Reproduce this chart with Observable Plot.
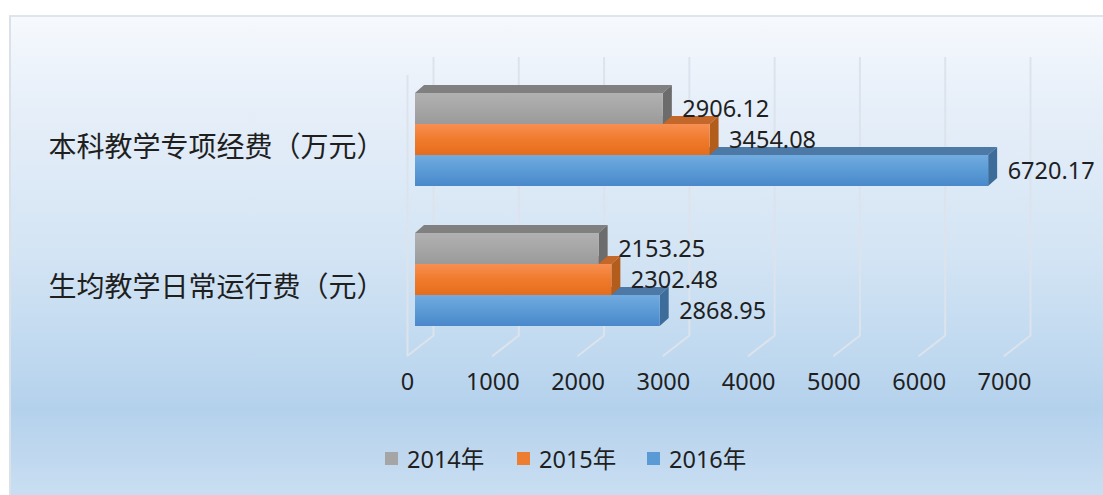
<!DOCTYPE html>
<html>
<head>
<meta charset="utf-8">
<script src="https://cdn.jsdelivr.net/npm/d3@7"></script>
<script src="https://cdn.jsdelivr.net/npm/@observablehq/plot@0.6"></script>
<style>
  html, body { margin: 0; padding: 0; background: #ffffff; width: 1103px; height: 495px; overflow: hidden;
    font-family: "Noto Sans", "Noto Sans CJK SC", sans-serif; }
  #panel { position: absolute; left: 9px; top: 15px; width: 1094px; height: 480px; box-sizing: border-box;
    border-left: 2px solid #dbe1e8; border-top: 2px solid #e0e5eb;
    background: linear-gradient(to bottom, #f6f9fd 0%, #e7eff9 18%, #d3e4f4 50%, #bed8ef 72%, #b4d1ec 82%, #c9def2 100%); }
  #chart { position: absolute; left: 0; top: 0; }
  .lg { position: absolute; top: 445px; height: 26px; display: flex; align-items: center; font-size: 23.5px; color: #1f1f1f; }
  .lg i { display: inline-block; width: 13px; height: 13px; margin-right: 9px; }
</style>
</head>
<body>
<div id="panel"></div>
<div id="chart"></div>
<div id="legend"></div>
<script>
// ---- data ----
const categories = ["本科教学专项经费（万元）", "生均教学日常运行费（元）"];
const years = ["2014年", "2015年", "2016年"];
const values2014 = [2906.12, 2153.25];
const values2015 = [3454.08, 2302.48];
const values2016 = [6720.17, 2868.95];
const xTicks = [0, 1000, 2000, 3000, 4000, 5000, 6000, 7000];

// ---- styles ----
const styles = {
  "2014年": {id: "g2014", front: ["#b1b1b1", "#a6a6a6", "#9a9a9a"], top: "#808080", side: "#6c6c6c", swatch: "#a5a5a5"},
  "2015年": {id: "g2015", front: ["#f78f52", "#f07a2c", "#e56d1c"], top: "#c4672a", side: "#b25d1c", swatch: "#ed7d31"},
  "2016年": {id: "g2016", front: ["#72abe0", "#5b9bd5", "#4a88cb"], top: "#4d79a7", side: "#3e6c9a", swatch: "#5b9bd5"}
};
const seriesValues = [values2014, values2015, values2016];
const rowsByYear = years.map((yr, k) => categories.map((c, i) => ({cat: c, year: yr, value: seriesValues[k][i]})));

const BAR = 31, BAND = 93, DEPTH_X = 9, DEPTH_Y = 8;
const font = "\"Noto Sans\", \"Noto Sans CJK SC\", sans-serif";
const textColor = "#1f1f1f";
const gridColor = "#dce3ec";

const barMarks = [];
// draw back-to-front: 2016 (bottom) first, then 2015, then 2014; each: top face, side face, front face
for (let k = years.length - 1; k >= 0; k--) {
  const yr = years[k], st = styles[yr], data = rowsByYear[k];
  barMarks.push(
    Plot.barX(data, {x1: 0, x2: "value", y: "cat", insetTop: BAR * k - DEPTH_Y, insetBottom: BAND - BAR * k,
      fill: st.top}),
    Plot.barX(data, {x1: "value", x2: "value", y: "cat", insetRight: -DEPTH_X, insetTop: BAR * k, insetBottom: BAR * (2 - k),
      fill: st.side}),
    Plot.barX(data, {x1: 0, x2: "value", y: "cat", insetTop: BAR * k, insetBottom: BAR * (2 - k),
      fill: `url(#${st.id})`})
  );
}

const labelMarks = years.map((yr, k) =>
  Plot.text(rowsByYear[k], {x: "value", y: "cat", text: d => d.value.toFixed(2), dx: 19, dy: (k - 1) * BAR,
    textAnchor: "start", fontSize: 23.5, fill: textColor, fontFamily: font})
);

const lineShape = {draw(context, l) { context.moveTo(0, 0); context.lineTo(0, -l); }};

const plot = Plot.plot({
  width: 1103,
  height: 440,
  marginLeft: 415,
  marginRight: 91,
  marginTop: 93,
  marginBottom: 114,
  style: {background: "transparent", overflow: "visible", fontFamily: font},
  x: {domain: [0, 7000], axis: null},
  y: {domain: categories, paddingInner: 47 / 140, paddingOuter: 0, axis: null},
  marks: [
    // back wall gridlines
    Plot.ruleX(xTicks, {x: d => d, dx: 18, insetTop: -36, insetBottom: -9, stroke: gridColor, strokeWidth: 2}),
    // floor diagonals
    Plot.vector(xTicks, {x: d => d, frameAnchor: "bottom", dx: 18, dy: 9, rotate: 232, length: 33, anchor: "start",
      shape: lineShape, stroke: gridColor, strokeWidth: 2}),
    // left wall edge
    Plot.ruleX([0], {x: d => d, dx: -8, insetTop: -18, insetBottom: -29, stroke: gridColor, strokeWidth: 2}),
    ...barMarks,
    ...labelMarks,
    // category labels
    Plot.text(categories, {y: d => d, text: d => d, frameAnchor: "left", dx: -367, dy: 8, textAnchor: "start",
      fontSize: 28, fill: textColor, fontFamily: font}),
    // x tick labels
    Plot.text(xTicks, {x: d => d, text: d => String(d), frameAnchor: "bottom", dx: -8, dy: 63,
      fontSize: 23.5, fill: textColor, fontFamily: font})
  ]
});

// gradients for front faces
const svg = d3.select(plot);
const defs = svg.insert("defs", ":first-child");
for (const yr of years) {
  const st = styles[yr];
  const g = defs.append("linearGradient").attr("id", st.id).attr("x1", 0).attr("y1", 0).attr("x2", 0).attr("y2", 1);
  g.append("stop").attr("offset", "0%").attr("stop-color", st.front[0]);
  g.append("stop").attr("offset", "50%").attr("stop-color", st.front[1]);
  g.append("stop").attr("offset", "100%").attr("stop-color", st.front[2]);
}
// skew top and side faces into 3D parallelograms (bar groups come in order top, side, front)
const sx = DEPTH_X / DEPTH_Y, sy = DEPTH_Y / DEPTH_X;
const barGroups = plot.querySelectorAll('g[aria-label="bar"]');
barGroups.forEach((grp, i) => {
  const role = i % 3;
  grp.querySelectorAll("rect").forEach(r => {
    const x = +r.getAttribute("x"), y = +r.getAttribute("y"), h = +r.getAttribute("height");
    if (role === 0) {
      r.setAttribute("transform", `translate(${sx * (y + h)},0) skewX(${-Math.atan(sx) * 180 / Math.PI})`);
    } else if (role === 1) {
      r.setAttribute("transform", `translate(0,${sy * x}) skewY(${-Math.atan(sy) * 180 / Math.PI})`);
    }
  });
});

document.getElementById("chart").append(plot);

// legend
const legendLeft = [385, 517, 647];
const legend = document.getElementById("legend");
years.forEach((yr, k) => {
  const item = document.createElement("div");
  item.className = "lg";
  item.style.left = legendLeft[k] + "px";
  item.innerHTML = `<i style="background:${styles[yr].swatch}"></i><span>${yr}</span>`;
  legend.append(item);
});
</script>
</body>
</html>
